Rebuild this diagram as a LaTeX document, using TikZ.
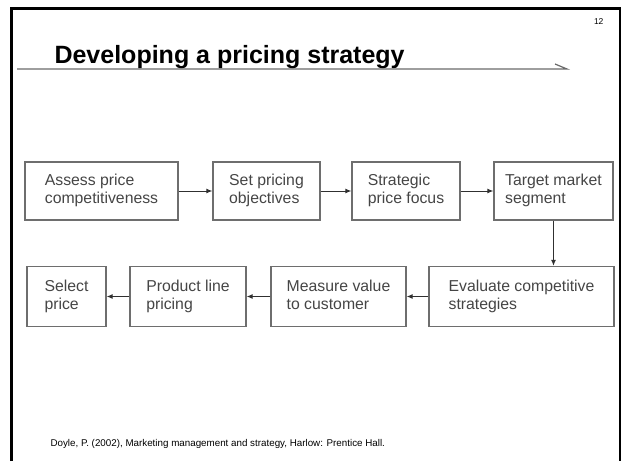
\documentclass[tikz,border=0pt]{standalone}
\usepackage{fontspec}
\setmainfont{Liberation Sans}
\usetikzlibrary{arrows.meta}

\definecolor{boxgray}{HTML}{6E6E6E}
\definecolor{textgray}{HTML}{454545}
\definecolor{rulegray}{HTML}{6A6A6A}
\definecolor{arrowgray}{HTML}{303030}

% one line of box text, with a strut so every box centres alike
\newcommand{\boxline}[1]{#1\strut}

\begin{document}
\begin{tikzpicture}[x=1pt,y=-1pt,
  stepbox/.style={draw=boxgray, line width=1.3pt, text=textgray,
    font=\fontsize{15.8}{18}\selectfont, align=left, inner sep=0pt},
  flow/.style={-{Latex[length=6pt,width=5pt]}, line width=1pt, draw=arrowgray}]
\useasboundingbox (0,0) rectangle (621,461);

% slide frame (open at the bottom)
\draw[line width=3pt] (11.5,461) -- (11.5,8.5) -- (620,8.5) -- (620,461);

% page number
\node[anchor=base east, font=\fontsize{8.5}{10}\selectfont] (pagenum) at (607,24) {12};

% heading and its rule
\node[anchor=base west, font=\bfseries\fontsize{25}{30}\selectfont] (heading) at (51,63) {Developing a pricing strategy};
\draw[rulegray, line width=1.2pt] (17,69) -- (567,69) -- (555,64);

% first row of steps
\node[stepbox, minimum width=153pt, minimum height=58pt] (b1) at (101.5,191) {\boxline{Assess price}\\\boxline{competitiveness}};
\node[stepbox, minimum width=107pt, minimum height=58pt] (b2) at (266.5,191) {\boxline{Set pricing}\\\boxline{objectives}};
\node[stepbox, minimum width=108pt, minimum height=58pt] (b3) at (406,191) {\boxline{Strategic}\\\boxline{price focus}};
\node[stepbox, minimum width=119pt, minimum height=58pt] (b4) at (553.5,191) {\boxline{Target market}\\\boxline{segment}};

% second row of steps
\node[stepbox, minimum width=79pt, minimum height=60pt] (b5) at (66.5,296.5) {\boxline{Select}\\\boxline{price}};
\node[stepbox, minimum width=116pt, minimum height=60pt] (b6) at (188,296.5) {\boxline{Product line}\\\boxline{pricing}};
\node[stepbox, minimum width=135pt, minimum height=60pt] (b7) at (338.5,296.5) {\boxline{Measure value}\\\boxline{to customer}};
\node[stepbox, minimum width=185pt, minimum height=60pt] (b8) at (521.5,296.5) {\boxline{Evaluate competitive}\\\boxline{strategies}};

% connectors
\draw[flow] (b1.east) -- (b2.west);
\draw[flow] (b2.east) -- (b3.west);
\draw[flow] (b3.east) -- (b4.west);
\draw[flow] (b4.south) -- (b4.south |- b8.north);
\draw[flow] (b8.west) -- (b7.east);
\draw[flow] (b7.west) -- (b6.east);
\draw[flow] (b6.west) -- (b5.east);

% source
\node[anchor=base west, font=\fontsize{9.8}{12}\selectfont] (source) at (47,446)
  {Doyle, P. (2002), Marketing management and strategy, Harlow: Prentice Hall.};
\end{tikzpicture}
\end{document}
